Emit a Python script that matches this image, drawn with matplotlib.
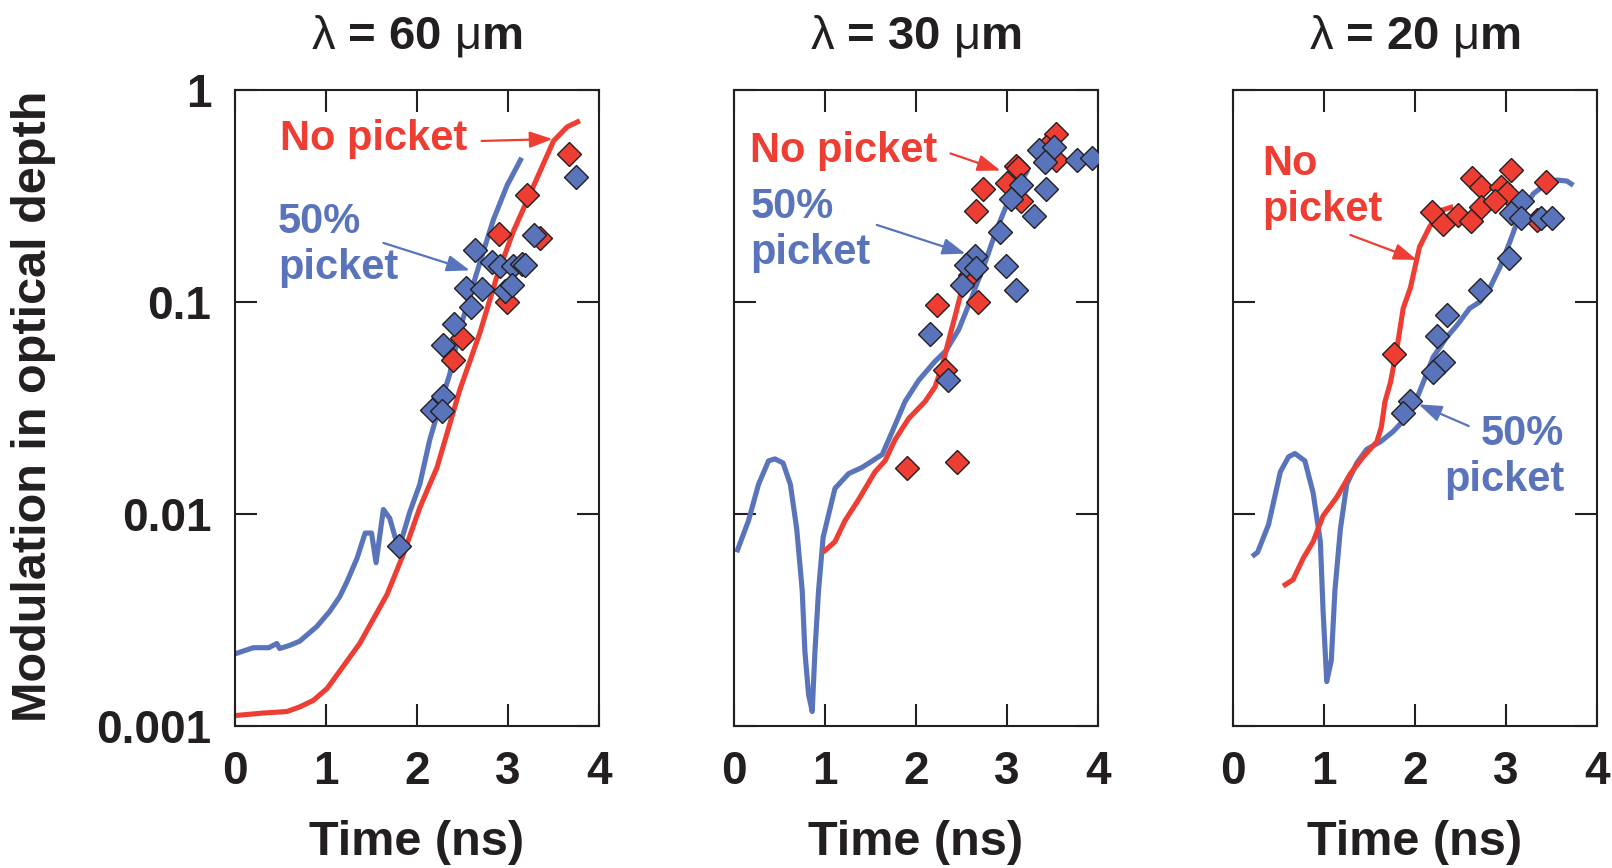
import matplotlib.pyplot as plt
from matplotlib.ticker import FixedLocator, NullLocator

RED = "#EE3E34"
BLUE = "#5A74BC"
INK = "#231F20"

plt.rcParams["font.family"] = ["Liberation Sans", "DejaVu Sans"]
plt.rcParams["font.weight"] = "bold"
plt.rcParams["mathtext.fontset"] = "custom"
plt.rcParams["mathtext.rm"] = "Liberation Sans:weight=normal"

wavelengths = ["60", "30", "20"]

# --- lambda = 60 um ---
t60_red = [0.00, 0.30, 0.57, 0.71, 0.86, 1.01, 1.12, 1.37, 1.67, 1.85, 2.03, 2.22,
           2.47, 2.69, 2.88, 3.06, 3.28, 3.50, 3.65, 3.79]
m60_red = [0.00112, 0.00115, 0.00117, 0.00123, 0.00132, 0.0015, 0.00174, 0.00245,
           0.00417, 0.00646, 0.0107, 0.0166, 0.0385, 0.0714, 0.133, 0.216, 0.352,
           0.575, 0.67, 0.716]
t60_blue = [0.00, 0.20, 0.37, 0.46, 0.49, 0.60, 0.71, 0.90, 1.04, 1.15, 1.23, 1.34,
            1.43, 1.50, 1.55, 1.63, 1.70, 1.76, 1.81, 1.92, 2.03, 2.14, 2.25, 2.36,
            2.47, 2.62, 2.73, 2.84, 2.99, 3.15]
m60_blue = [0.00219, 0.00234, 0.00234, 0.00245, 0.00232, 0.0024, 0.00251, 0.00295,
            0.00347, 0.00407, 0.00479, 0.00617, 0.00813, 0.00813, 0.00589, 0.0105,
            0.00955, 0.00776, 0.00708, 0.0102, 0.0138, 0.0224, 0.0324, 0.0457, 0.0741,
            0.122, 0.174, 0.245, 0.355, 0.479]
t60_red_pts = [3.67, 3.21, 2.90, 3.35, 2.99, 2.49, 2.39]
m60_red_pts = [0.50, 0.32, 0.21, 0.20, 0.10, 0.068, 0.053]
t60_blue_pts = [3.75, 3.28, 2.64, 2.82, 2.91, 3.06, 3.15, 3.19, 2.54, 2.71, 2.97, 3.04,
                2.59, 2.41, 2.29, 2.28, 2.16, 2.27, 1.80]
m60_blue_pts = [0.39, 0.207, 0.175, 0.155, 0.148, 0.148, 0.151, 0.150, 0.116, 0.115,
                0.113, 0.12, 0.095, 0.079, 0.063, 0.036, 0.031, 0.0305, 0.0071]

# --- lambda = 30 um ---
t30_red = [0.98, 1.11, 1.22, 1.37, 1.55, 1.66, 1.77, 1.92, 2.10, 2.21, 2.29, 2.36,
           2.44, 2.51]
m30_red = [0.0066, 0.0074, 0.0093, 0.0117, 0.0158, 0.0178, 0.0224, 0.0282, 0.0339,
           0.0398, 0.0501, 0.066, 0.089, 0.117]
t30_blue = [0.03, 0.16, 0.27, 0.38, 0.45, 0.54, 0.62, 0.69, 0.75, 0.78, 0.82, 0.86,
            0.89, 0.93, 0.98, 1.11, 1.26, 1.41, 1.63, 1.74, 1.88, 2.03, 2.21, 2.33,
            2.47, 2.62, 2.77, 2.88, 2.99, 3.10, 3.23]
m30_blue = [0.0066, 0.0093, 0.0138, 0.0178, 0.0182, 0.0174, 0.0138, 0.0085, 0.00437,
            0.00224, 0.00141, 0.00117, 0.00224, 0.00437, 0.00776, 0.0132, 0.0155,
            0.0166, 0.0191, 0.0245, 0.0339, 0.0427, 0.0525, 0.0589, 0.0741, 0.107,
            0.158, 0.216, 0.282, 0.339, 0.42]
t30_red_pts = [3.54, 3.43, 3.54, 3.10, 3.12, 2.74, 3.00, 3.15, 2.66, 2.59, 2.68, 2.23,
               2.32, 1.90, 2.45]
m30_red_pts = [0.62, 0.54, 0.47, 0.44, 0.43, 0.34, 0.365, 0.30, 0.27, 0.134, 0.10,
               0.097, 0.048, 0.0164, 0.0175]
t30_blue_pts = [3.35, 3.52, 3.42, 3.77, 3.94, 3.16, 3.04, 3.43, 3.30, 2.92, 2.65, 2.55,
                2.66, 2.99, 2.51, 3.10, 2.15, 2.35]
m30_blue_pts = [0.52, 0.54, 0.46, 0.47, 0.48, 0.355, 0.305, 0.34, 0.255, 0.215, 0.165,
                0.15, 0.145, 0.148, 0.12, 0.114, 0.071, 0.043]

# --- lambda = 20 um ---
t20_red = [0.55, 0.66, 0.77, 0.88, 0.99, 1.14, 1.29, 1.43, 1.58, 1.63, 1.67, 1.73,
           1.80, 1.87, 1.95, 2.05, 2.16, 2.27, 2.42]
m20_red = [0.00457, 0.0049, 0.00617, 0.0074, 0.0098, 0.012, 0.0155, 0.0186, 0.0219,
           0.0257, 0.0339, 0.0417, 0.060, 0.0933, 0.117, 0.182, 0.226, 0.269, 0.282]
t20_blue = [0.21, 0.27, 0.39, 0.52, 0.61, 0.68, 0.79, 0.88, 0.96, 0.99, 1.03, 1.08,
            1.12, 1.18, 1.25, 1.36, 1.47, 1.62, 1.76, 1.87, 2.02, 2.09, 2.20, 2.35,
            2.46, 2.60, 2.71, 2.82, 2.93, 3.04, 3.15, 3.30, 3.45, 3.56, 3.67, 3.74]
m20_blue = [0.0063, 0.0066, 0.0089, 0.0158, 0.0186, 0.0193, 0.0178, 0.0126, 0.0074,
            0.00347, 0.00162, 0.00204, 0.00437, 0.0085, 0.0138, 0.0174, 0.0202, 0.0219,
            0.0245, 0.0275, 0.0351, 0.0417, 0.055, 0.0684, 0.0776, 0.0933, 0.100, 0.116,
            0.145, 0.191, 0.257, 0.324, 0.363, 0.376, 0.372, 0.355]
t20_red_pts = [3.05, 2.63, 2.73, 2.94, 3.01, 3.44, 2.73, 2.88, 2.19, 2.31, 2.47, 2.62,
               3.34, 1.77]
m20_red_pts = [0.42, 0.385, 0.35, 0.35, 0.325, 0.37, 0.28, 0.30, 0.266, 0.234, 0.258,
               0.24, 0.245, 0.057]
t20_blue_pts = [3.18, 3.06, 3.16, 3.39, 3.51, 3.03, 2.71, 2.35, 2.24, 2.31, 2.20, 1.95,
                1.87]
m20_blue_pts = [0.30, 0.264, 0.25, 0.25, 0.25, 0.162, 0.114, 0.087, 0.069, 0.052, 0.047,
                0.034, 0.030]

panels = [
    (t60_red, m60_red, t60_blue, m60_blue, t60_red_pts, m60_red_pts, t60_blue_pts, m60_blue_pts),
    (t30_red, m30_red, t30_blue, m30_blue, t30_red_pts, m30_red_pts, t30_blue_pts, m30_blue_pts),
    (t20_red, m20_red, t20_blue, m20_blue, t20_red_pts, m20_red_pts, t20_blue_pts, m20_blue_pts),
]

# label text, text anchor, alignment, arrow tail, arrow head
labels = [
    [("No picket", (1.52, 0.59), "center", (2.71, 0.575), (3.49, 0.587), RED),
     ("50%\npicket", (0.47, 0.186), "left", (1.63, 0.19), (2.58, 0.141), BLUE)],
    [("No picket", (1.20, 0.513), "center", (2.38, 0.502), (2.93, 0.417), RED),
     ("50%\npicket", (0.18, 0.219), "left", (1.57, 0.231), (2.545, 0.169), BLUE)],
    [("No\npicket", (0.32, 0.349), "left", (1.29, 0.207), (2.02, 0.158), RED),
     ("50%\npicket", (3.64, 0.0186), "right", (2.59, 0.026), (2.04, 0.0329), BLUE)],
]

fig = plt.figure(figsize=(16.12, 8.68), dpi=100)
lefts = [0.1458, 0.4553, 0.7649]

for i, (left, data, notes, wl) in enumerate(zip(lefts, panels, labels, wavelengths)):
    ax = fig.add_axes([left, 0.1636, 0.2258, 0.7327])
    tr, mr, tb, mb, trp, mrp, tbp, mbp = data

    ax.plot(tb, mb, color=BLUE, lw=3.7, solid_capstyle="butt", zorder=2)
    ax.plot(tr, mr, color=RED, lw=3.7, solid_capstyle="butt", zorder=2)
    ax.plot(trp, mrp, ls="none", marker="D", ms=12, mfc=RED, mec=INK, mew=1.0, zorder=3)
    ax.plot(tbp, mbp, ls="none", marker="D", ms=12, mfc=BLUE, mec=INK, mew=1.0, zorder=3)

    for text, xy, align, tail, head, color in notes:
        ax.text(*xy, text, color=color, fontsize=30, fontweight="bold",
                ha=align, va="center", multialignment=align, linespacing=1.2, zorder=4)
        ax.annotate("", xy=head, xytext=tail,
                    arrowprops=dict(arrowstyle="-|>,head_length=1.4,head_width=0.5",
                                    color=color, lw=1.6, shrinkA=0, shrinkB=0))

    ax.set_yscale("log")
    ax.set_xlim(0, 4)
    ax.set_ylim(0.001, 1)
    ax.xaxis.set_major_locator(FixedLocator([0, 1, 2, 3, 4]))
    ax.yaxis.set_major_locator(FixedLocator([0.001, 0.01, 0.1, 1]))
    ax.yaxis.set_minor_locator(NullLocator())
    ax.set_xticklabels(["0", "1", "2", "3", "4"])
    if i == 0:
        ax.set_yticklabels(["0.001", "0.01", "0.1", "1"])
    else:
        ax.set_yticklabels([])

    ax.tick_params(axis="both", direction="in", length=16, width=1.5, color=INK,
                   top=True, right=True, labelsize=33, labelcolor=INK)
    ax.tick_params(axis="x", pad=17)
    ax.tick_params(axis="y", pad=17)
    for s in ax.spines.values():
        s.set_linewidth(1.5)
        s.set_color(INK)

    ax.set_xlabel("Time (ns)", fontsize=35, fontweight="bold", color=INK, labelpad=19)
    ax.set_title(rf"$\mathrm{{λ}}$ = {wl} $\mathrm{{μ}}$m", fontsize=34,
                 fontweight="bold", color=INK, pad=30)

fig.text(0.021, 0.532, "Modulation in optical depth", rotation=90, ha="center",
         va="center", fontsize=35, fontweight="bold", color=INK)

fig.savefig("out.png", dpi=100)
